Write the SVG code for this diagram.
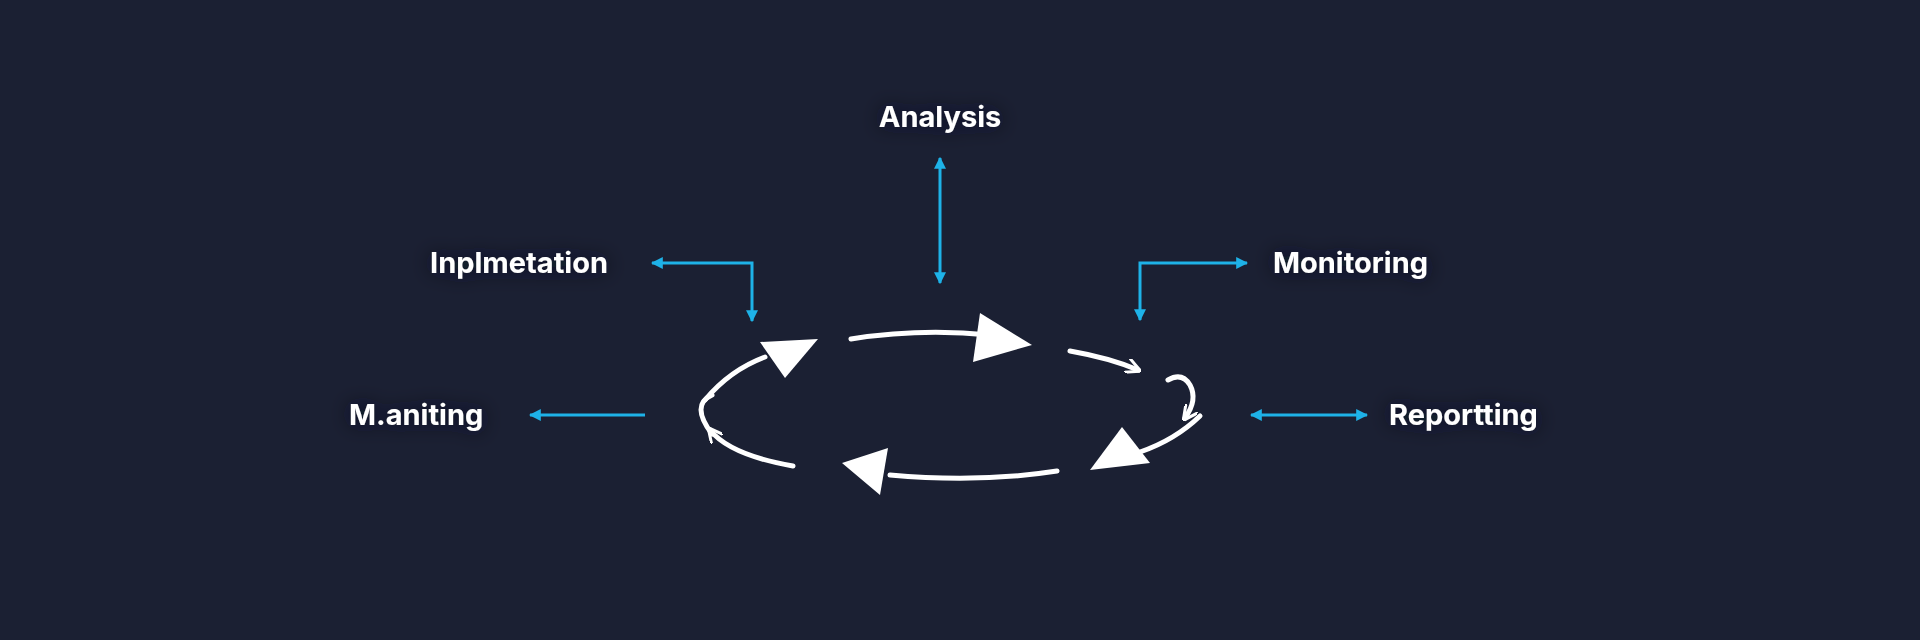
<svg xmlns="http://www.w3.org/2000/svg" width="1920" height="640" viewBox="0 0 1920 640">
<defs>
<style>
.lbl{font-family:"Inter","Liberation Sans",sans-serif;font-weight:700;font-size:29px;fill:#ffffff}
.blue{stroke:#1eb2e8;stroke-width:3;fill:none}
.cyc{stroke:#ffffff;stroke-width:5;fill:none;stroke-linecap:round}
.head{fill:#ffffff}
</style>
<marker id="ab" viewBox="0 0 10 10" refX="9" refY="5" markerWidth="4" markerHeight="4" orient="auto-start-reverse"><path d="M0,0 L10,5 L0,10 z" fill="#1eb2e8"/></marker>
<marker id="sw" viewBox="0 0 10 10" refX="8" refY="5" markerWidth="3" markerHeight="3" orient="auto"><path d="M0,0 L10,5 L0,10" fill="none" stroke="#fff" stroke-width="2"/></marker>
<filter id="glow" x="-20%" y="-50%" width="140%" height="200%"><feGaussianBlur in="SourceAlpha" stdDeviation="10" result="b"/><feFlood flood-color="#0f1322" flood-opacity="0.9"/><feComposite in2="b" operator="in"/><feMerge><feMergeNode/><feMergeNode in="SourceGraphic"/></feMerge></filter>
</defs>
<rect width="1920" height="640" fill="#1b2033"/>
<g id="analysis"><text class="lbl" x="940" y="127" text-anchor="middle" filter="url(#glow)">Analysis</text></g>
<g id="implementation"><text class="lbl" x="430" y="273" filter="url(#glow)">Inplmetation</text></g>
<g id="monitoring"><text class="lbl" x="1273" y="273" filter="url(#glow)">Monitoring</text></g>
<g id="maniting"><text class="lbl" x="349" y="425" filter="url(#glow)">M.aniting</text></g>
<g id="reporting"><text class="lbl" x="1389" y="425" filter="url(#glow)">Reportting</text></g>
<g id="connectors">
<path class="blue" d="M940,158 V283" marker-start="url(#ab)" marker-end="url(#ab)"/>
<path class="blue" d="M652,263 H752 V321" marker-start="url(#ab)" marker-end="url(#ab)"/>
<path class="blue" d="M1140,320 V263 H1247" marker-start="url(#ab)" marker-end="url(#ab)"/>
<path class="blue" d="M645,415 H530" marker-end="url(#ab)"/>
<path class="blue" d="M1251,415 H1367" marker-start="url(#ab)" marker-end="url(#ab)"/>
<!-- cycle -->
<path class="cyc" d="M851,339 Q920,328 990,335"/>
<path class="head" d="M1032,345 L980,313 L973,362 z"/>
<path class="cyc" d="M1070,351 Q1110,358 1138,370" marker-end="url(#sw)"/>
<path class="cyc" d="M1168,380 Q1182,372 1190,385 Q1198,400 1185,418" marker-end="url(#sw)"/>
<path class="cyc" d="M1200,416 Q1175,440 1140,452"/>
<path class="head" d="M1090,470 L1122,427 L1150,463 z"/>
<path class="cyc" d="M1057,471 Q980,483 890,475"/>
<path class="head" d="M842,463 L888,448 L880,495 z"/>
<path class="cyc" d="M793,466 Q730,455 710,430" marker-end="url(#sw)"/>
<path class="cyc" d="M712,434 Q690,405 712,395" />
<path class="cyc" d="M705,400 Q730,370 765,357"/>
<path class="head" d="M818,339 L760,342 L785,378 z"/>
</g>
</svg>
